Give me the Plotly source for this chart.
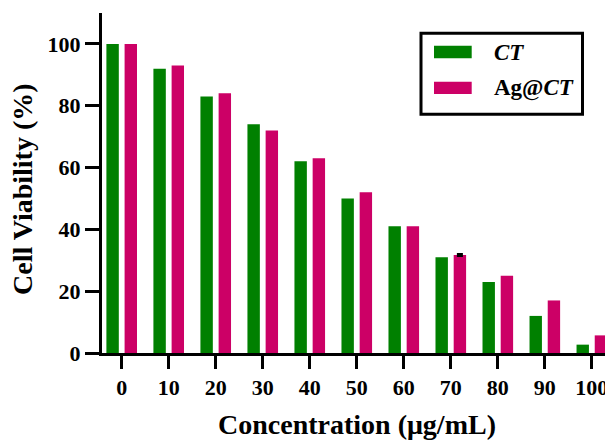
import numpy as np
import plotly.graph_objects as go

# ---- data ----
concentrations = ["0", "10", "20", "30", "40", "50", "60", "70", "80", "90", "100"]
ct_values = [100, 92, 83, 74, 62, 50, 41, 31, 23, 12, 2.7]
agct_values = [100, 93, 84, 72, 63, 52, 41, 31.7, 25, 17, 5.7]
agct_errors = [None, None, None, None, None, None, None, 0.3, None, None, None]
series_names = ["CT", "Ag@CT"]
series_labels = ["<b><i>CT</i></b>", "<b>Ag@<i>CT</i></b>"]
series_colors = ["#008000", "#CC0066"]
y_ticks = [0, 20, 40, 60, 80, 100]

W, H = 605, 442
ML, MR, MT, MB = 102, 0, 13, 89
PW, PH = W - ML - MR, H - MT - MB
FONT = "Liberation Serif, Times New Roman, serif"


def px_x(px):
    return (px - ML) / PW


def px_y(py):
    return (H - MB - py) / PH


err_arr = np.array([np.nan if v is None else v for v in agct_errors], dtype=float)

fig = go.Figure()
fig.add_trace(go.Bar(
    x=concentrations, y=ct_values, name=series_names[0],
    marker=dict(color=series_colors[0], line=dict(width=0)),
    showlegend=False,
))
fig.add_trace(go.Bar(
    x=concentrations, y=agct_values, name=series_names[1],
    marker=dict(color=series_colors[1], line=dict(width=0)),
    error_y=dict(type="data", array=err_arr, visible=True,
                 color="black", thickness=2, width=3),
    showlegend=False,
))

axis_common = dict(
    showline=True, linecolor="black", linewidth=3,
    ticks="outside", tickwidth=3, tickcolor="black",
    showgrid=False, zeroline=False,
    tickfont=dict(family=FONT, size=22, color="black", weight="bold"),
)

fig.update_xaxes(
    type="category", range=[-0.419, 10.28], ticklen=13,
    **axis_common,
)
fig.update_yaxes(
    range=[0, 110], tickvals=y_ticks, ticklen=14,
    **axis_common,
)

# axis titles
fig.add_annotation(
    text="<b>Cell Viability (%)</b>", xref="paper", yref="paper",
    x=px_x(23), y=px_y(189), xanchor="center", yanchor="middle",
    textangle=-90, showarrow=False,
    font=dict(family=FONT, size=28, color="black"),
)
fig.add_annotation(
    text="<b>Concentration (μg/mL)</b>", xref="paper", yref="paper",
    x=px_x(357), y=px_y(424), xanchor="center", yanchor="middle",
    showarrow=False,
    font=dict(family=FONT, size=28, color="black"),
)

# custom legend
fig.add_shape(type="rect", xref="paper", yref="paper",
              x0=px_x(421), x1=px_x(582.5), y0=px_y(33.2), y1=px_y(114.3),
              line=dict(color="black", width=3), fillcolor="white")
sw_rows = [(45.7, 58.3, 52), (81.7, 94, 88)]
for (top, bot, mid), color, label in zip(sw_rows, series_colors, series_labels):
    fig.add_shape(type="rect", xref="paper", yref="paper",
                  x0=px_x(434), x1=px_x(471.7), y0=px_y(bot), y1=px_y(top),
                  line=dict(width=0), fillcolor=color)
    fig.add_annotation(
        text=label, xref="paper", yref="paper",
        x=px_x(492), y=px_y(mid), xanchor="left", yanchor="middle",
        showarrow=False,
        font=dict(family=FONT, size=23, color="black"),
    )

fig.update_layout(
    width=W, height=H,
    margin=dict(l=ML, r=MR, t=MT, b=MB, autoexpand=False),
    barmode="group", bargap=0.226, bargroupgap=0.318,
    plot_bgcolor="white", paper_bgcolor="white",
    showlegend=False,
)

fig.write_html("out.html")
